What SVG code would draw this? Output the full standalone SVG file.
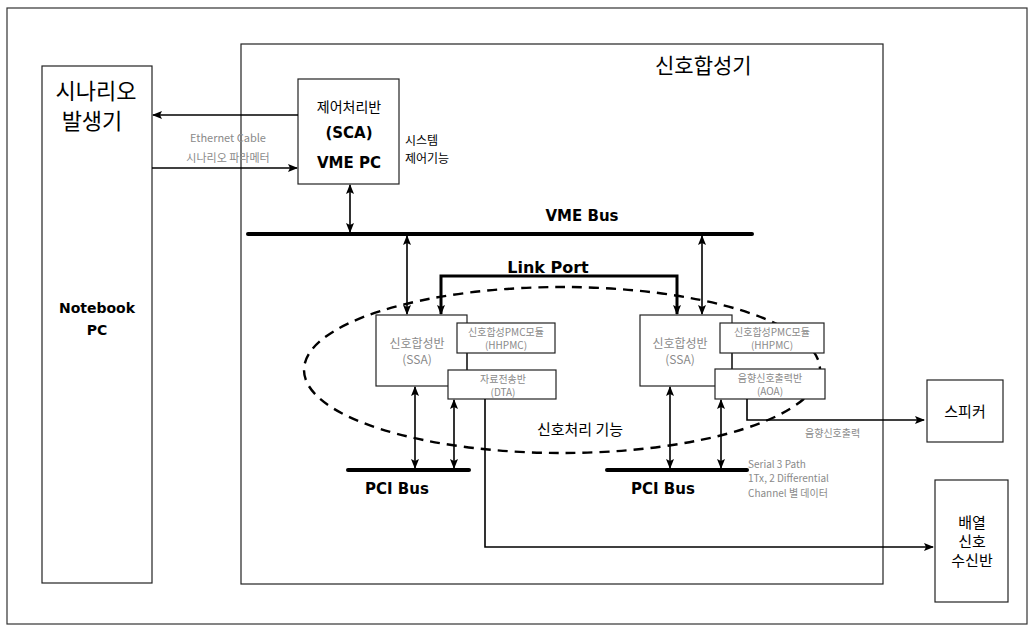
<svg xmlns="http://www.w3.org/2000/svg" width="1035" height="632" viewBox="0 0 1035 632">
<defs>
<marker id="ah" viewBox="0 0 10 10" refX="9" refY="5" markerWidth="10" markerHeight="10" markerUnits="userSpaceOnUse" orient="auto-start-reverse">
<path d="M0,1 L10,5 L0,9 L2,5 Z" fill="#000"/>
</marker>
<style>
.box{fill:#fff;stroke:#222;stroke-width:1.2}
.frame{fill:none;stroke:#333;stroke-width:1.2}
.ln{fill:none;stroke:#000;stroke-width:1.6}
.bus{fill:none;stroke:#000;stroke-width:4;stroke-linecap:round}
.kr{font-family:"Noto Sans CJK KR","Liberation Sans",sans-serif;fill:#000}
.b{font-family:"DejaVu Sans","Liberation Sans",sans-serif;font-weight:bold;fill:#000}
.g{font-family:"Noto Sans CJK KR","Liberation Sans",sans-serif;fill:#8a8a8a}
.c{text-anchor:middle}
</style>
</defs>
<rect width="1035" height="632" fill="#fff"/>
<rect class="frame" x="7" y="8" width="1020" height="616"/>

<g id="notebook">
<rect class="box" x="42" y="66" width="110" height="517"/>
<text class="kr c" x="96" y="99" font-size="22">시나리오</text>
<text class="kr c" x="92" y="129" font-size="22">발생기</text>
<text class="b c" x="97" y="313" font-size="14">Notebook</text>
<text class="b c" x="97" y="335" font-size="14">PC</text>
</g>

<g id="synth">
<rect class="box" x="241" y="44" width="642" height="540"/>
<text class="kr" x="655" y="73" font-size="21">신호합성기</text>
</g>

<g id="sca">
<rect class="box" x="298" y="79" width="101" height="105"/>
<text class="kr c" x="349" y="112" font-size="14">제어처리반</text>
<text class="b c" x="349" y="138" font-size="15">(SCA)</text>
<text class="b c" x="349" y="168" font-size="15">VME PC</text>
</g>
<g id="sca-note">
<text class="kr" x="405" y="145" font-size="12">시스템</text>
<text class="kr" x="405" y="163" font-size="12">제어기능</text>
</g>

<g id="ellipse">
<ellipse cx="562" cy="370" rx="258" ry="83" fill="none" stroke="#000" stroke-width="2.4" stroke-dasharray="10,7"/>
<text class="kr c" x="580" y="435" font-size="15">신호처리 기능</text>
</g>

<g id="ssa-left">
<rect class="box" x="376" y="315" width="91" height="71"/>
<text class="g c" x="417" y="348" font-size="12">신호합성반</text>
<text class="g c" x="417" y="364" font-size="12">(SSA)</text>
</g>
<g id="hhpmc-left">
<rect class="box" x="457" y="323" width="98" height="30"/>
<text class="g c" x="506" y="336" font-size="10">신호합성PMC모듈</text>
<text class="g c" x="506" y="349" font-size="10">(HHPMC)</text>
</g>
<g id="dta">
<rect class="box" x="448" y="370" width="108" height="29"/>
<text class="g c" x="503" y="383" font-size="10">자료전송반</text>
<text class="g c" x="503" y="396" font-size="10">(DTA)</text>
</g>

<g id="ssa-right">
<rect class="box" x="640" y="315" width="92" height="71"/>
<text class="g c" x="680" y="348" font-size="12">신호합성반</text>
<text class="g c" x="680" y="364" font-size="12">(SSA)</text>
</g>
<g id="hhpmc-right">
<rect class="box" x="720" y="323" width="104" height="30"/>
<text class="g c" x="772" y="336" font-size="10">신호합성PMC모듈</text>
<text class="g c" x="772" y="349" font-size="10">(HHPMC)</text>
</g>
<g id="aoa">
<rect class="box" x="715" y="369" width="110" height="30"/>
<text class="g c" x="770" y="382" font-size="10">음향신호출력반</text>
<text class="g c" x="770" y="395" font-size="10">(AOA)</text>
</g>

<g id="speaker">
<rect class="box" x="927" y="380" width="76" height="62"/>
<text class="kr c" x="965" y="417" font-size="15">스피커</text>
</g>
<g id="receiver">
<rect class="box" x="935" y="480" width="73" height="122"/>
<text class="kr c" x="972" y="528" font-size="15">배열</text>
<text class="kr c" x="972" y="547" font-size="15">신호</text>
<text class="kr c" x="972" y="566" font-size="15">수신반</text>
</g>

<g id="buses">
<line class="bus" x1="248" y1="234" x2="752" y2="234"/>
<text class="b c" x="582" y="221" font-size="15">VME Bus</text>
<line class="bus" x1="348" y1="470" x2="469" y2="470"/>
<text class="b c" x="397" y="494" font-size="15">PCI Bus</text>
<line class="bus" x1="607" y1="470" x2="747" y2="470"/>
<text class="b c" x="663" y="494" font-size="15">PCI Bus</text>
</g>

<g id="connectors">
<line class="ln" x1="298" y1="115" x2="153" y2="115" marker-end="url(#ah)"/>
<line class="ln" x1="152" y1="168" x2="297" y2="168" marker-end="url(#ah)"/>
<text class="g c" x="228" y="142" font-size="11">Ethernet Cable</text>
<text class="g c" x="228" y="162" font-size="11">시나리오 파라메터</text>

<line class="ln" x1="350" y1="185" x2="350" y2="232" marker-start="url(#ah)" marker-end="url(#ah)"/>
<line class="ln" x1="407" y1="236" x2="407" y2="314" marker-start="url(#ah)" marker-end="url(#ah)"/>
<line class="ln" x1="702" y1="236" x2="702" y2="314" marker-start="url(#ah)" marker-end="url(#ah)"/>

<polyline fill="none" stroke="#000" stroke-width="3" points="441,314 441,276 677,276 677,314"/>
<line class="ln" x1="441" y1="290" x2="441" y2="314" marker-end="url(#ah)"/>
<line class="ln" x1="677" y1="290" x2="677" y2="314" marker-end="url(#ah)"/>
<text class="b c" x="548" y="273" font-size="16">Link Port</text>

<line class="ln" x1="415" y1="387" x2="415" y2="468" marker-start="url(#ah)" marker-end="url(#ah)"/>
<line class="ln" x1="454" y1="400" x2="454" y2="468" marker-start="url(#ah)" marker-end="url(#ah)"/>
<line class="ln" x1="670" y1="387" x2="670" y2="468" marker-start="url(#ah)" marker-end="url(#ah)"/>
<line class="ln" x1="721" y1="400" x2="721" y2="468" marker-start="url(#ah)" marker-end="url(#ah)"/>

<line x1="467" y1="353" x2="467" y2="370" stroke="#222" stroke-width="1.2"/>
<line x1="732" y1="353" x2="732" y2="369" stroke="#222" stroke-width="1.2"/>

<polyline class="ln" points="747,399 747,420 924,420" marker-end="url(#ah)"/>
<text class="g" x="805" y="437" font-size="10">음향신호출력</text>

<polyline class="ln" points="485,399 485,547 933,547" marker-end="url(#ah)"/>
<text class="g" x="748" y="468" font-size="10">Serial 3 Path</text>
<text class="g" x="748" y="482" font-size="10">1Tx, 2 Differential</text>
<text class="g" x="748" y="497" font-size="10">Channel 별 데이터</text>
</g>
</svg>
